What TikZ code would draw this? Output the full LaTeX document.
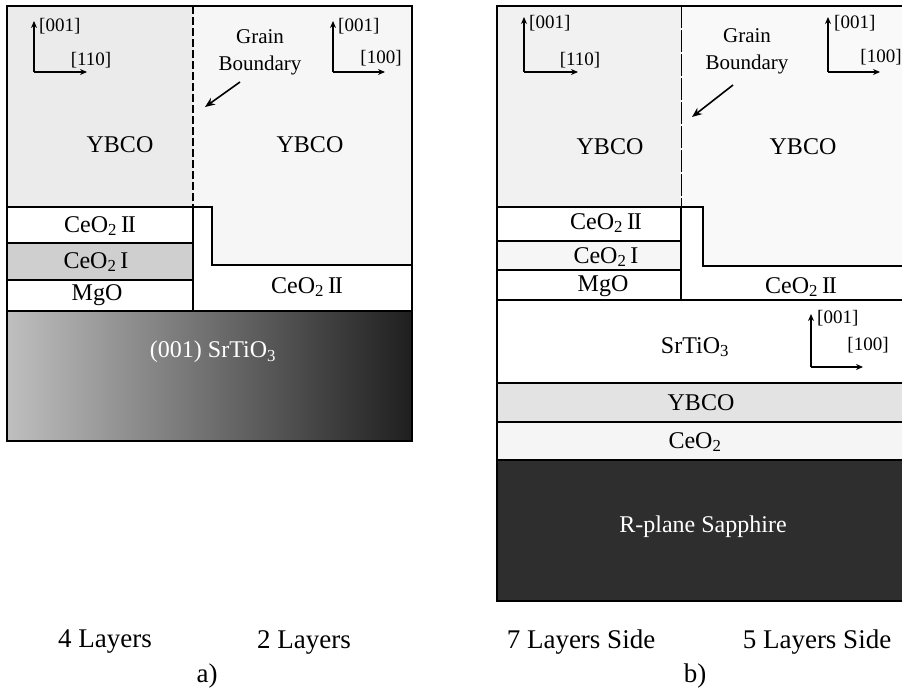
\documentclass[tikz,border=0pt]{standalone}
\usepackage{fontspec}
\setmainfont{Liberation Serif}
\usetikzlibrary{arrows.meta}
\newcommand{\romtwo}{I\kern-1.3ptI}
\begin{document}
\begin{tikzpicture}[x=1pt,y=-1pt,
  layer/.style={draw=black,line width=1.5pt},
  lbl/.style={font=\fontsize{24}{26}\selectfont,inner sep=0pt},
  axlbl/.style={font=\fontsize{19}{20}\selectfont,inner sep=0pt},
  gblbl/.style={font=\fontsize{21}{27}\selectfont,inner sep=0pt,align=center},
  captxt/.style={font=\fontsize{27}{29}\selectfont,inner sep=0pt},
  axarrow/.style={line width=1.3pt,-{Stealth[length=7pt,width=6pt]}},
  gbarrow/.style={line width=1.6pt,-{Stealth[length=10pt,width=8pt]}},
  gbthick/.style={line width=2pt,dash pattern=on 8pt off 3pt},
  gbthin/.style={line width=1pt,dash pattern=on 22pt off 2pt},
]
\useasboundingbox (0,0) rectangle (902,691);
\fill[white] (0,0) rectangle (902,691);

% ================= a) =================
\fill[gray!16] (7,6) rectangle (193,207);
\fill[gray!7] (193,6) -- (412,6) -- (412,265) -- (212,265) -- (212,207) -- (193,207) -- cycle;
\fill[white] (7,207) rectangle (193,243);
\fill[gray!38] (7,243) rectangle (193,280);
\fill[white] (7,280) rectangle (193,311);
\fill[white] (193,207) -- (212,207) -- (212,265) -- (412,265) -- (412,311) -- (193,311) -- cycle;
\shade[left color=gray!50,right color=black!88] (7,311) rectangle (412,441);

\draw[layer] (7,6) rectangle (412,441);
\draw[layer] (7,207) -- (212,207) -- (212,265) -- (412,265);
\draw[layer] (7,243) -- (193,243);
\draw[layer] (7,280) -- (193,280);
\draw[layer] (7,311) -- (412,311);
\draw[layer] (193,207) -- (193,311);
\draw[gbthick] (193,6) -- (193,207);

\coordinate (aLc) at (34,72);
\coordinate (aLu) at (34,21);
\coordinate (aLr) at (87,72);
\draw[axarrow] (aLc) -- (aLu);
\draw[axarrow] (aLc) -- (aLr);
\node[axlbl,anchor=west] (aL001) at (39,26) {[001]};
\node[axlbl] (aL110) at (91,60) {[110]};

\coordinate (aRc) at (333,72);
\coordinate (aRu) at (333,21);
\coordinate (aRr) at (385,72);
\draw[axarrow] (aRc) -- (aRu);
\draw[axarrow] (aRc) -- (aRr);
\node[axlbl,anchor=west] (aR001) at (338,26) {[001]};
\node[axlbl] (aR100) at (381,58) {[100]};

\node[gblbl] (gbA) at (260,52) {Grain\\Boundary};
\coordinate (gbAs) at (240,82);
\coordinate (gbAe) at (205,107);
\draw[gbarrow] (gbAs) -- (gbAe);

\node[lbl] (ybcoA1) at (120,145) {YBCO};
\node[lbl] (ybcoA2) at (310,145) {YBCO};
\node[lbl] (ceoIIA1) at (100,226) {CeO\textsubscript{2}\,\romtwo};
\node[lbl] (ceoIA) at (96,262) {CeO\textsubscript{2}\,I};
\node[lbl] (mgoA) at (97,295) {MgO};
\node[lbl] (ceoIIA2) at (307,287) {CeO\textsubscript{2}\,\romtwo};
\node[lbl,text=white] (stoA) at (213,352) {(001) SrTiO\textsubscript{3}};

\node[captxt] (capA1) at (105,642) {4 Layers};
\node[captxt] (capA2) at (304,642) {2 Layers};
\node[captxt] (capA) at (207,676) {a)};

% ================= b) =================
\fill[gray!11] (497,6) rectangle (681,207);
\fill[gray!5] (681,6) -- (902,6) -- (902,266) -- (703,266) -- (703,207) -- (681,207) -- cycle;
\fill[white] (497,207) rectangle (681,241);
\fill[gray!7] (497,241) rectangle (681,270);
\fill[white] (497,270) rectangle (681,300);
\fill[white] (681,207) -- (703,207) -- (703,266) -- (902,266) -- (902,300) -- (681,300) -- cycle;
\fill[white] (497,300) rectangle (902,383);
\fill[gray!22] (497,383) rectangle (902,422);
\fill[gray!8] (497,422) rectangle (902,460);
\fill[black!82] (497,460) rectangle (902,601);

\draw[layer] (903,6) -- (497,6) -- (497,601) -- (903,601);
\draw[layer] (497,207) -- (703,207) -- (703,266) -- (903,266);
\draw[layer] (497,241) -- (681,241);
\draw[layer] (497,270) -- (681,270);
\draw[layer] (497,300) -- (903,300);
\draw[layer] (681,207) -- (681,300);
\draw[layer] (497,383) -- (903,383);
\draw[layer] (497,422) -- (903,422);
\draw[layer] (497,460) -- (903,460);
\draw[gbthin] (681,6) -- (681,207);

\coordinate (bLc) at (524,72);
\coordinate (bLu) at (524,17);
\coordinate (bLr) at (578,72);
\draw[axarrow] (bLc) -- (bLu);
\draw[axarrow] (bLc) -- (bLr);
\node[axlbl,anchor=west] (bL001) at (529,23) {[001]};
\node[axlbl] (bL110) at (580,60) {[110]};

\coordinate (bRc) at (828,72);
\coordinate (bRu) at (828,17);
\coordinate (bRr) at (880,72);
\draw[axarrow] (bRc) -- (bRu);
\draw[axarrow] (bRc) -- (bRr);
\node[axlbl,anchor=west] (bR001) at (834,23) {[001]};
\node[axlbl] (bR100) at (881,57) {[100]};

\node[gblbl] (gbB) at (747,51) {Grain\\Boundary};
\coordinate (gbBs) at (733,85);
\coordinate (gbBe) at (692,117);
\draw[gbarrow] (gbBs) -- (gbBe);

\node[lbl] (ybcoB1) at (610,147) {YBCO};
\node[lbl] (ybcoB2) at (803,147) {YBCO};
\node[lbl] (ceoIIB1) at (606,223) {CeO\textsubscript{2}\,\romtwo};
\node[lbl] (ceoIB) at (606,257) {CeO\textsubscript{2}\,I};
\node[lbl] (mgoB) at (603,286) {MgO};
\node[lbl] (ceoIIB2) at (801,287) {CeO\textsubscript{2}\,\romtwo};
\node[lbl] (stoB) at (695,347) {SrTiO\textsubscript{3}};

\coordinate (cLc) at (811,367);
\coordinate (cLu) at (811,314);
\coordinate (cLr) at (863,367);
\draw[axarrow] (cLc) -- (cLu);
\draw[axarrow] (cLc) -- (cLr);
\node[axlbl,anchor=west] (c001) at (817,318) {[001]};
\node[axlbl] (c100) at (868,345) {[100]};

\node[lbl] (ybcoB3) at (701,403) {YBCO};
\node[lbl] (ceoB) at (695,442) {CeO\textsubscript{2}};
\node[lbl,text=white] (sapph) at (703,527) {R-plane Sapphire};

\node[captxt] (capB1) at (581,642) {7 Layers Side};
\node[captxt] (capB2) at (817,642) {5 Layers Side};
\node[captxt] (capB) at (695,676) {b)};
\end{tikzpicture}
\end{document}
